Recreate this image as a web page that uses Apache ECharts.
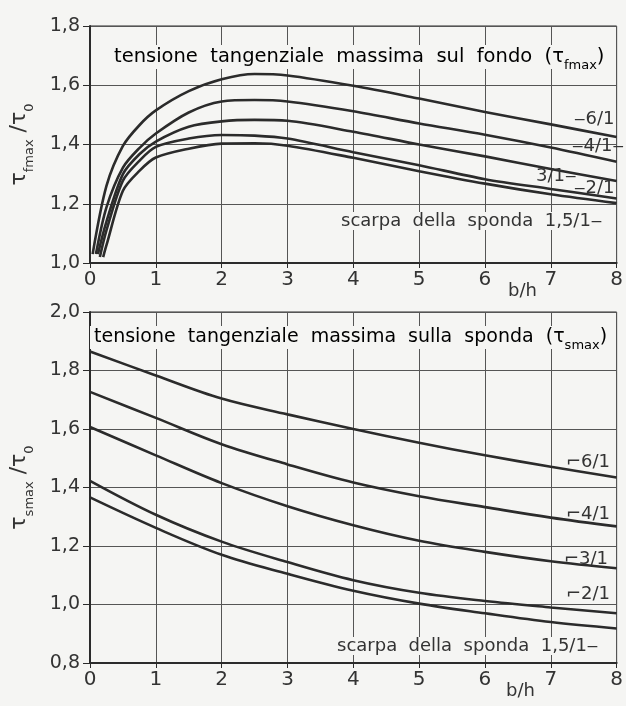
<!DOCTYPE html>
<html>
<head>
<meta charset="utf-8">
<script src="https://cdn.jsdelivr.net/npm/echarts@6/dist/echarts.min.js"></script>
<style>
  html, body { margin: 0; padding: 0; background: #f5f5f3; }
  #chart { width: 626px; height: 706px; }
</style>
</head>
<body>
<div id="chart"></div>
<script>
// asse x: b/h
const xTicks = [0, 1, 2, 3, 4, 5, 6, 7, 8];
const slopes = ['6/1', '4/1', '3/1', '2/1', '1,5/1'];

// tensione tangenziale massima sul fondo (pannello alto)
const fondoStartX = [0.04, 0.09, 0.12, 0.15, 0.2];
const fondoStartY = [1.03, 1.03, 1.03, 1.02, 1.02];
const fondoX = [0.25, 0.5, 0.75, 1, 1.5, 2, 2.5, 3, 4, 5, 6, 7, 8];
const fondo6 = [1.26, 1.395, 1.465, 1.515, 1.58, 1.62, 1.638, 1.633, 1.598, 1.555, 1.51, 1.468, 1.425];
const fondo4 = [1.188, 1.322, 1.388, 1.437, 1.508, 1.545, 1.55, 1.545, 1.512, 1.471, 1.433, 1.39, 1.342];
const fondo3 = [1.14, 1.3, 1.367, 1.41, 1.46, 1.478, 1.483, 1.48, 1.443, 1.4, 1.36, 1.317, 1.277];
const fondo2 = [1.11, 1.278, 1.345, 1.392, 1.42, 1.432, 1.43, 1.42, 1.374, 1.33, 1.283, 1.25, 1.218];
const fondo15 = [1.06, 1.244, 1.311, 1.356, 1.386, 1.403, 1.404, 1.396, 1.355, 1.31, 1.268, 1.232, 1.202];

// tensione tangenziale massima sulla sponda (pannello basso)
const spondaX = [0, 1, 2, 3, 4, 5, 6, 7, 8];
const sponda6 = [1.865, 1.783, 1.704, 1.65, 1.6, 1.553, 1.51, 1.471, 1.434];
const sponda4 = [1.727, 1.638, 1.548, 1.479, 1.417, 1.37, 1.333, 1.297, 1.267];
const sponda3 = [1.607, 1.51, 1.415, 1.336, 1.271, 1.218, 1.18, 1.148, 1.124];
const sponda2 = [1.423, 1.307, 1.215, 1.145, 1.083, 1.04, 1.012, 0.99, 0.97];
const sponda15 = [1.366, 1.262, 1.17, 1.105, 1.047, 1.003, 0.97, 0.94, 0.918];

const ink = '#2b2b2b';
const paper = '#f5f5f3';
const font = 'DejaVu Sans';

const chart = echarts.init(document.getElementById('chart'));

function comma(v) {
    return v.toFixed(1).replace('.', ',');
}

function xAxisOf(gridIndex) {
    return {
        gridIndex: gridIndex,
        type: 'value',
        min: 0, max: 8, interval: 1,
        axisLine: { show: true, onZero: false, lineStyle: { color: ink, width: 2 } },
        axisTick: { show: true, inside: false, length: 5, lineStyle: { color: ink } },
        axisLabel: { color: '#333', fontSize: 20, fontFamily: font, margin: 7 },
        splitLine: { show: true, lineStyle: { color: '#555', width: 1 } }
    };
}

function yAxisOf(gridIndex, min, max, name) {
    return {
        gridIndex: gridIndex,
        type: 'value',
        min: min, max: max, interval: 0.2,
        name: name,
        nameLocation: 'middle',
        nameRotate: 90,
        nameGap: 60,
        nameTextStyle: {
            color: '#333', fontFamily: font,
            rich: {
                t: { fontSize: 22, color: '#333', fontFamily: font },
                s: { fontSize: 13, color: '#333', fontFamily: font, verticalAlign: 'bottom', padding: [0, 0, -6, 0] }
            }
        },
        axisLine: { show: true, lineStyle: { color: ink, width: 2 } },
        axisTick: { show: true, length: 7, lineStyle: { color: ink } },
        axisLabel: { color: '#333', fontSize: 19, fontFamily: font, margin: 10, formatter: comma },
        splitLine: { show: true, lineStyle: { color: '#555', width: 1 } }
    };
}

function fondoSeries(i, ys) {
    const data = [[fondoStartX[i], fondoStartY[i]]];
    fondoX.forEach((x, k) => data.push([x, ys[k]]));
    return {
        name: 'fondo ' + slopes[i], type: 'line', xAxisIndex: 0, yAxisIndex: 0,
        data: data, smooth: 0.3, showSymbol: false,
        lineStyle: { color: ink, width: 2.6 }
    };
}

function spondaSeries(i, ys) {
    return {
        name: 'sponda ' + slopes[i], type: 'line', xAxisIndex: 1, yAxisIndex: 1,
        data: spondaX.map((x, k) => [x, ys[k]]), smooth: 0.35, showSymbol: false,
        lineStyle: { color: ink, width: 2.6 }
    };
}

function richOf(size) {
    return {
        a: { fontSize: size, fontFamily: font, color: '#333' },
        s: { fontSize: 13, fontFamily: font, color: '#333', verticalAlign: 'bottom', padding: [0, 0, -5, 0] }
    };
}

function txt(left, top, text, bg) {
    const style = { text: text, fill: '#333', font: '18px "' + font + '"' };
    if (bg) style.backgroundColor = paper;
    return { type: 'text', left: left, top: top, z: 100, style: style };
}

chart.setOption({
    backgroundColor: paper,
    animation: false,
    grid: [
        { left: 87, top: 26, width: 538, height: 237, show: true, borderColor: ink, borderWidth: 1 },
        { left: 84, top: 312, width: 536, height: 351, show: true, borderColor: ink, borderWidth: 1 }
    ],
    xAxis: [xAxisOf(0), xAxisOf(1)],
    yAxis: [
        yAxisOf(0, 1.0, 1.8, '{t|τ}{s|fmax}{t| /τ}{s|0}'),
        yAxisOf(1, 0.8, 2.0, '{t|τ}{s|smax}{t| /τ}{s|0}')
    ],
    series: [
        fondoSeries(0, fondo6), fondoSeries(1, fondo4), fondoSeries(2, fondo3),
        fondoSeries(3, fondo2), fondoSeries(4, fondo15),
        spondaSeries(0, sponda6), spondaSeries(1, sponda4), spondaSeries(2, sponda3),
        spondaSeries(3, sponda2), spondaSeries(4, sponda15)
    ],
    graphic: [
        {
            type: 'text', left: 110, top: 45, z: 100,
            style: {
                text: '{a|tensione  tangenziale  massima  sul  fondo  (τ}{s|fmax}{a|)}',
                rich: richOf(19.5), backgroundColor: paper, padding: [2, 4]
            }
        },
        {
            type: 'text', left: 90, top: 326, z: 100,
            style: {
                text: '{a|tensione  tangenziale  massima  sulla  sponda  (τ}{s|smax}{a|)}',
                rich: richOf(19), backgroundColor: paper, padding: [2, 4]
            }
        },
        // etichette curve, pannello alto
        txt(574, 110, '‒6/1'),
        txt(572, 137, '‒4/1‒'),
        txt(536, 167, '3/1‒'),
        txt(574, 179, '‒2/1'),
        txt(341, 212, 'scarpa  della  sponda  1,5/1‒', true),
        txt(508, 282, 'b/h'),
        // etichette curve, pannello basso
        txt(566, 453, '⌐6/1'),
        txt(566, 505, '⌐4/1'),
        txt(564, 550, '⌐3/1'),
        txt(566, 585, '⌐2/1'),
        txt(337, 637, 'scarpa  della  sponda  1,5/1‒', true),
        txt(506, 682, 'b/h')
    ]
});
</script>
</body>
</html>
